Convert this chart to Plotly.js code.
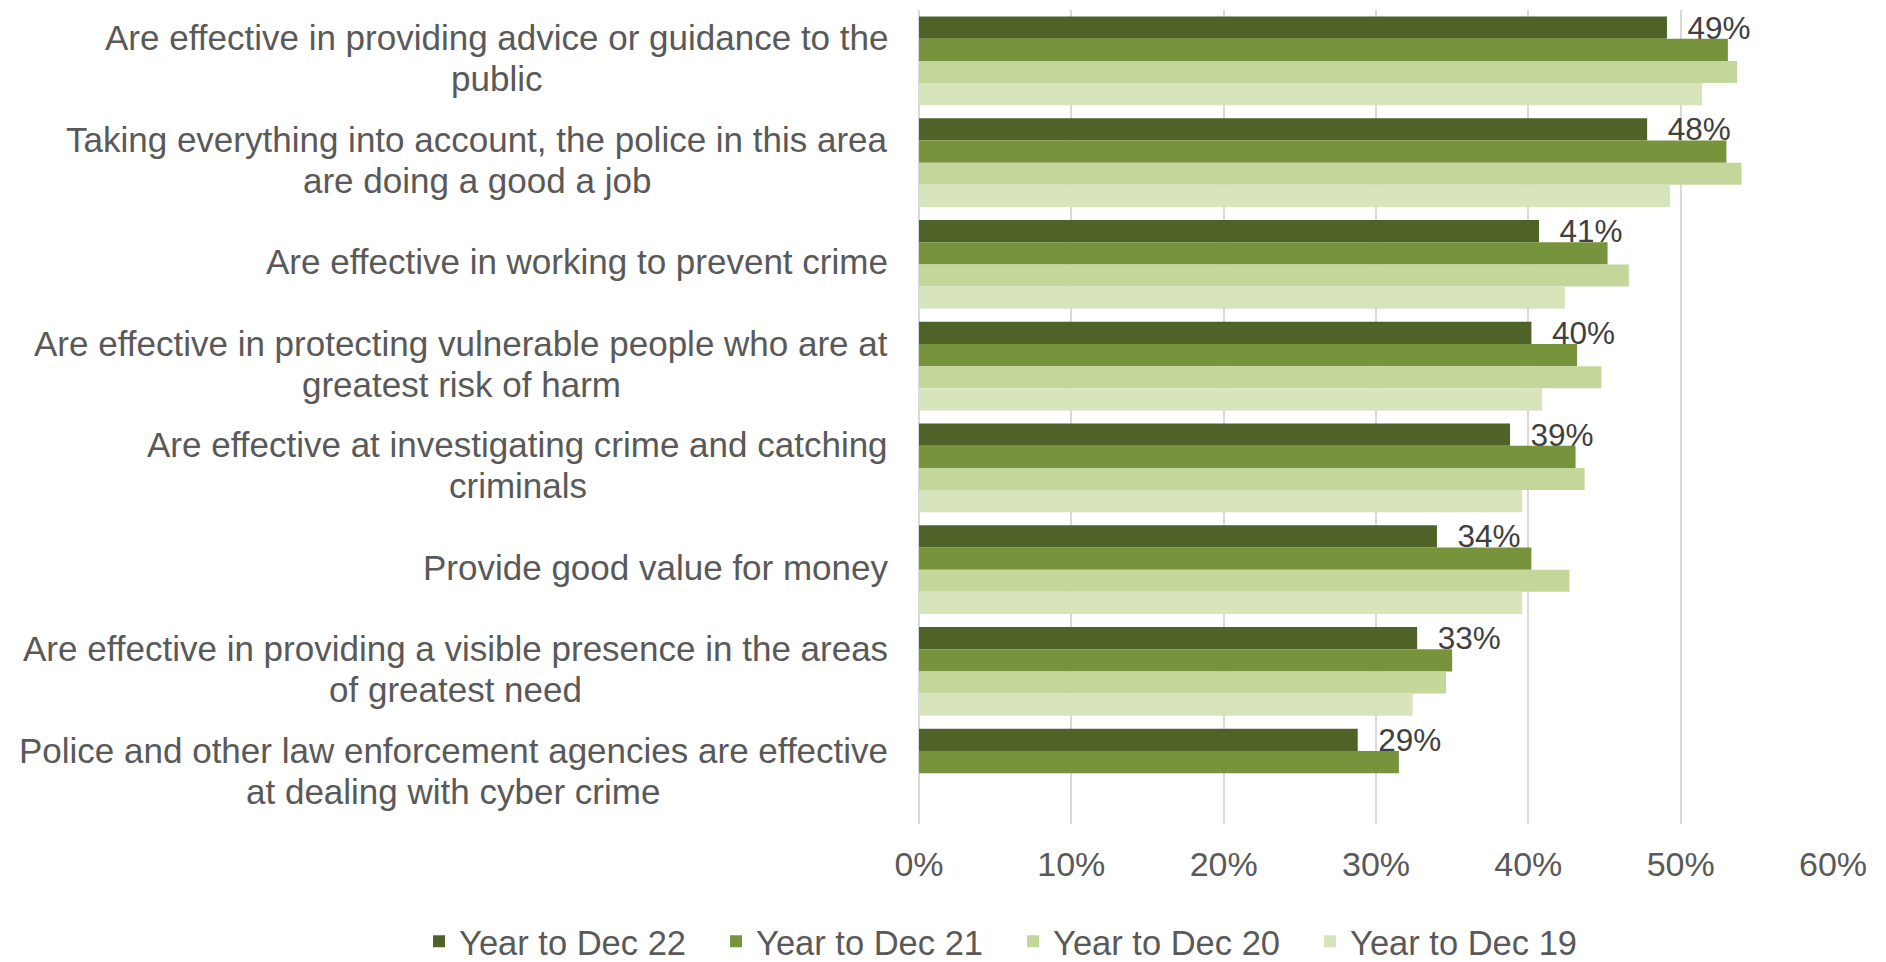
<!DOCTYPE html>
<html>
<head>
<meta charset="utf-8">
<script src="https://cdn.plot.ly/plotly-3.0.1.min.js"></script>
<style>html,body{margin:0;padding:0;background:#fff;}#chart{width:1886px;height:962px;}</style>
</head>
<body>
<div id="chart"></div>
<script>
const categories = [
  "Are effective in providing advice or guidance to the<br>public",
  "Taking everything into account, the police in this area<br>are doing a good a job",
  "Are effective in working to prevent crime",
  "Are effective in protecting vulnerable people who are at<br>greatest risk of harm",
  "Are effective at investigating crime and catching<br>criminals",
  "Provide good value for money",
  "Are effective in providing a visible presence in the areas<br>of greatest need",
  "Police and other law enforcement agencies are effective<br>at dealing with cyber crime"
];
const seriesNames = ["Year to Dec 22", "Year to Dec 21", "Year to Dec 20", "Year to Dec 19"];
const dec22 = [49.1, 47.8, 40.7, 40.2, 38.8, 34.0, 32.7, 28.8];
const dec21 = [53.1, 53.0, 45.2, 43.2, 43.1, 40.2, 35.0, 31.5];
const dec20 = [53.7, 54.0, 46.6, 44.8, 43.7, 42.7, 34.6, null];
const dec19 = [51.4, 49.3, 42.4, 40.9, 39.6, 39.6, 32.4, null];
const dec22Labels = ["49%", "48%", "41%", "40%", "39%", "34%", "33%", "29%"];
const xTicks = [0, 10, 20, 30, 40, 50, 60];

const colors = ["#4F6228", "#77933C", "#C4D79B", "#D8E4BC"];
const values = [dec22, dec21, dec20, dec19];
const FONT = "Liberation Sans, Arial, sans-serif";
const TXT = "#595959";
const LABEL_SIZE = 35;
const LINE_GAP = 41;

const traces = values.map((v, i) => {
  const t = {
    type: "bar",
    orientation: "h",
    name: seriesNames[i],
    y: categories,
    x: v,
    marker: {color: colors[i], line: {width: 0}},
    hoverinfo: "x+name"
  };
  if (i === 0) {
    t.text = dec22Labels.map(s => "\u00a0\u00a0" + s);
    t.textposition = "outside";
    t.constraintext = "none";
    t.cliponaxis = false;
    t.textfont = {family: FONT, size: 31.5, color: "#404040"};
  }
  return t;
});

// category labels: centred multi-line blocks, right edge next to the axis
const ctx = document.createElement("canvas").getContext("2d");
ctx.font = LABEL_SIZE + "px 'Liberation Sans', Arial, sans-serif";
const annotations = [];
categories.forEach(c => {
  const lines = c.split("<br>");
  const maxW = Math.max(...lines.map(l => ctx.measureText(l).width));
  const n = lines.length;
  lines.forEach((l, k) => {
    annotations.push({
      xref: "paper", yref: "y",
      x: 0, y: c,
      xanchor: "center", yanchor: "middle",
      xshift: -31 - maxW / 2,
      yshift: ((n - 1) / 2 - k) * LINE_GAP + 2.5,
      align: "center",
      showarrow: false,
      borderpad: 0,
      text: l,
      font: {family: FONT, size: LABEL_SIZE, color: TXT}
    });
  });
});

const layout = {
  width: 1886, height: 962,
  margin: {l: 919, r: 53, t: 10, b: 138, autoexpand: false},
  paper_bgcolor: "#fff", plot_bgcolor: "#fff",
  font: {family: FONT, size: 35, color: TXT},
  barmode: "group",
  bargap: 0.13,
  bargroupgap: 0,
  showlegend: true,
  legend: {
    orientation: "h",
    x: -0.547, xanchor: "left",
    y: -0.1085, yanchor: "top",
    font: {family: FONT, size: 34.5, color: TXT},
    traceorder: "normal",
    itemwidth: 30,
    entrywidth: 252,
    entrywidthmode: "pixels"
  },
  xaxis: {
    range: [0, 60],
    tickvals: xTicks,
    ticktext: xTicks.map(t => t + "%"),
    showgrid: true, gridcolor: "#D9D9D9", gridwidth: 1.5,
    zeroline: true, zerolinecolor: "#D9D9D9", zerolinewidth: 1.5,
    showline: false,
    ticks: "",
    ticklabelstandoff: 17,
    tickfont: {family: FONT, size: 34, color: TXT},
    fixedrange: true
  },
  yaxis: {
    type: "category",
    autorange: "reversed",
    showticklabels: false,
    showgrid: false, zeroline: false, showline: false,
    ticks: "",
    fixedrange: true
  },
  annotations: annotations
};

Plotly.newPlot("chart", traces, layout, {displayModeBar: false});
</script>
</body>
</html>
